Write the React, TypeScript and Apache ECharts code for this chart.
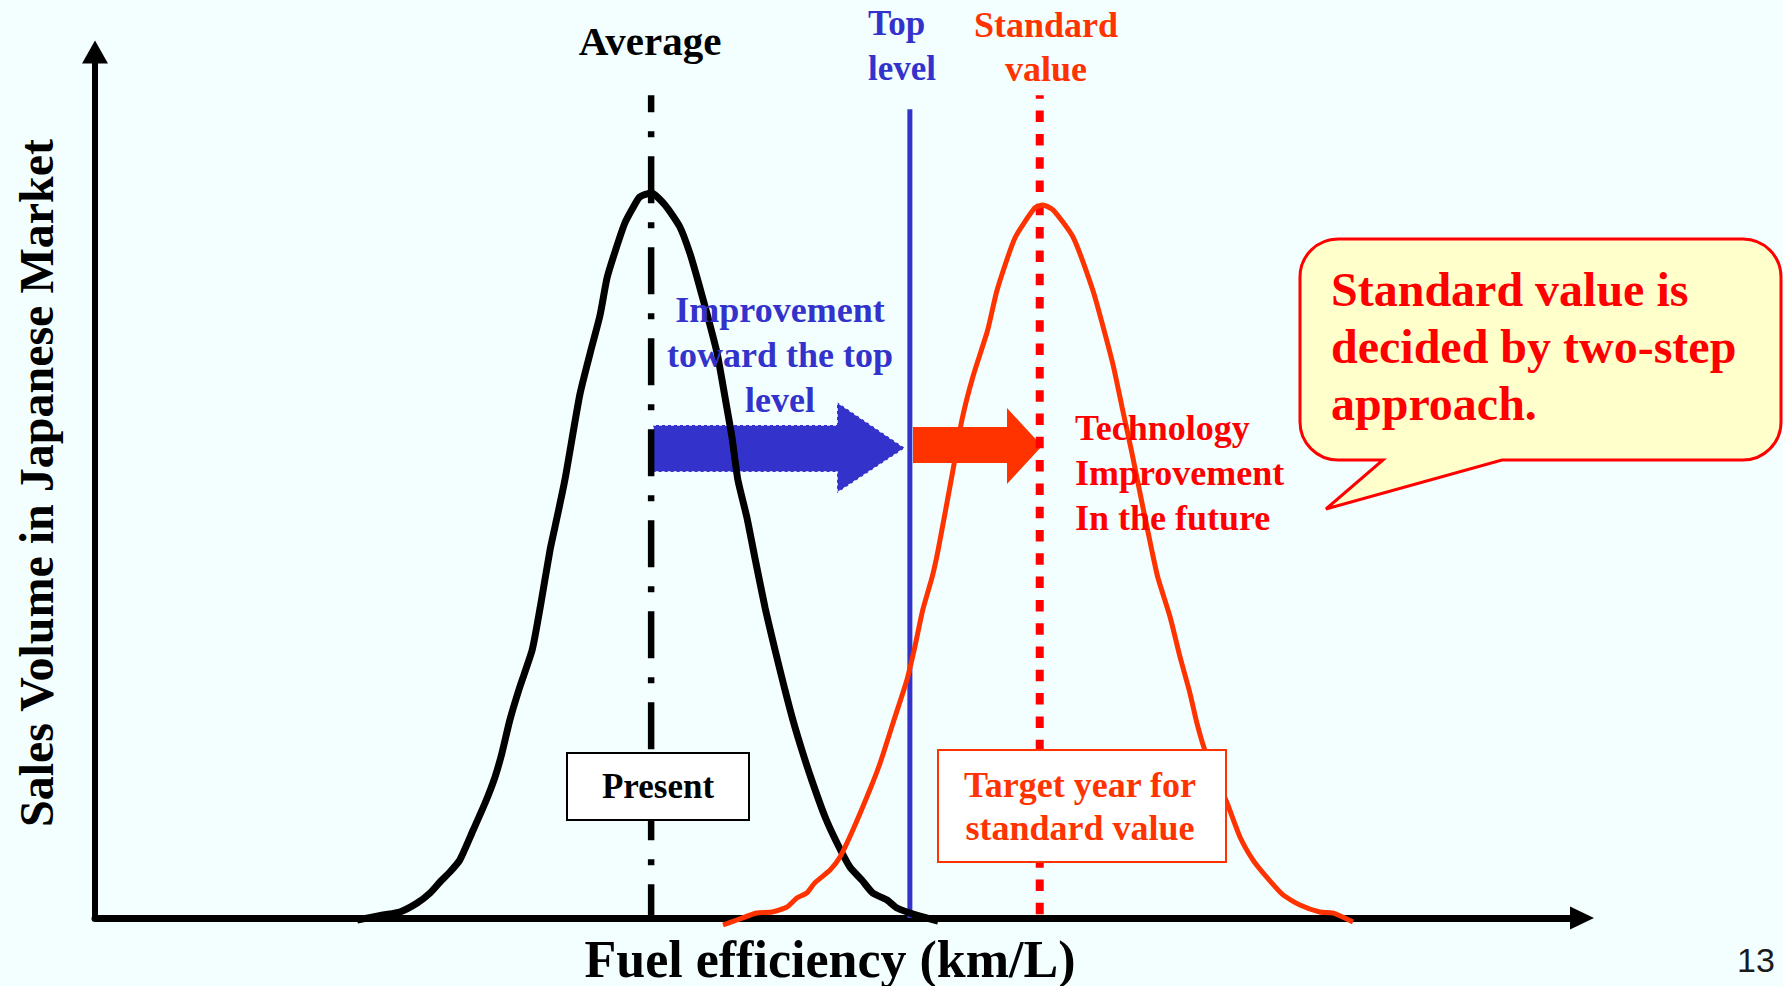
import React, { useEffect, useRef } from "react";
import * as echarts from "echarts";

// ---- data (x: fuel efficiency km/L, y: share of sales volume) ----
const presentX = [5.29, 5.81, 6.15, 6.5, 6.76, 6.96, 7.16, 7.36, 7.63, 7.87, 8.07, 8.21, 8.37, 8.57, 8.82, 8.98, 9.18, 9.28, 9.48, 9.78, 9.99, 10.19, 10.33, 10.49, 10.69, 10.85, 10.99, 11.22, 11.5, 11.8, 12.0, 12.16, 12.37, 12.55, 12.71, 12.85, 12.97, 13.15, 13.31, 13.52, 13.72, 13.92, 14.08, 14.28, 14.48, 14.73, 14.97, 15.23, 15.47, 15.69, 15.98, 16.18, 16.44, 16.7, 17.01];
const presentY = [-0.23, 0.35, 0.69, 1.73, 2.89, 4.16, 5.31, 6.7, 10.16, 13.28, 16.28, 19.05, 22.86, 26.67, 30.95, 35.8, 42.49, 45.15, 50.58, 60.39, 65.24, 69.63, 73.9, 76.91, 80.25, 81.99, 83.26, 83.72, 82.33, 79.79, 76.79, 73.67, 69.28, 65.24, 60.16, 55.54, 50.58, 46.3, 41.69, 35.8, 30.95, 26.33, 22.86, 19.05, 15.59, 11.66, 8.66, 5.89, 4.39, 2.89, 2.08, 1.15, 0.58, 0.12, -0.35];
const futureX = [12.67, 12.95, 13.35, 13.66, 13.96, 14.16, 14.36, 14.52, 14.83, 15.03, 15.29, 15.63, 15.84, 16.1, 16.38, 16.54, 16.7, 16.89, 17.01, 17.31, 17.49, 17.71, 18.01, 18.2, 18.56, 18.96, 19.12, 19.33, 19.73, 20.13, 20.34, 20.54, 20.72, 20.92, 21.14, 21.32, 21.44, 21.69, 21.89, 22.09, 22.23, 22.39, 22.84, 23.1, 23.36, 23.6, 23.97, 24.31, 24.71, 24.97, 25.38];
const futureY = [-0.81, -0.23, 0.58, 0.69, 1.27, 2.31, 2.89, 4.04, 5.54, 7.04, 10.16, 14.78, 17.9, 22.52, 27.48, 31.29, 35.57, 39.38, 42.49, 51.73, 57.51, 62.47, 67.9, 72.52, 78.52, 81.99, 82.33, 81.76, 78.64, 72.52, 68.24, 63.86, 59.01, 53.7, 47.46, 42.49, 39.38, 34.76, 30.14, 25.98, 22.52, 19.4, 13.28, 9.35, 6.7, 4.97, 2.66, 1.5, 0.69, 0.58, -0.46];

const averageValue = 11.22;
const averageTop = 95.0;
const topLevelValue = 16.44;
const topLevelTop = 93.4;
const standardValue = 19.06;
const standardTop = 95.0;

const xMin = 0;
const xMax = 30;
const yMin = 0;
const yMax = 100;

const xTitle = "Fuel efficiency (km/L)";
const yTitle = "Sales Volume in Japanese Market";
const averageLabel = "Average";
const topLevelLabel = "Top\nlevel";
const standardLabel = "Standard\nvalue";
const improvementLabel = "Improvement\ntoward the top\nlevel";
const technologyLabel = "Technology\nImprovement\nIn the future";
const calloutLabel = "Standard value is\ndecided by two-step\napproach.";
const presentLabel = "Present";
const targetLabel = "Target year for\nstandard value";
const pageNumber = "13";

// ---- styles ----
const BG = "#F3FFFF";
const BLUE = "#3333CC";
const ORANGE = "#FF3300";
const RED = "#FF0000";
const SERIF = '"Liberation Serif", "Times New Roman", serif';

const CALLOUT_D =
  "M1338 239 L1743 239 A38 38 0 0 1 1781 277 L1781 422 A38 38 0 0 1 1743 460 L1502 460 L1326 509 L1383 460 L1338 460 A38 38 0 0 1 1300 422 L1300 277 A38 38 0 0 1 1338 239 Z";

let registered = false;
function ensureShapes() {
  if (registered) return;
  echarts.graphic.registerShape("callout", echarts.graphic.extendPath(CALLOUT_D, {}));
  registered = true;
}

const zip = (xs: number[], ys: number[]) => xs.map((x, i) => [x, ys[i]]);

function txt(
  text: string,
  x: number,
  y: number,
  size: number,
  fill: string,
  align: string,
  lineHeight?: number,
  extra: any = {}
) {
  return {
    type: "text",
    x,
    y,
    z: 20,
    ...extra,
    style: {
      text,
      fill,
      fontSize: size,
      fontWeight: "bold",
      fontFamily: SERIF,
      textAlign: align,
      textVerticalAlign: "middle",
      lineHeight: lineHeight || size * 1.2,
      ...(extra.style || {}),
    },
  };
}

export default function App() {
  const ref = useRef<HTMLDivElement>(null);

  useEffect(() => {
    if (!ref.current) return;
    ensureShapes();
    document.body.style.margin = "0";
    const chart = echarts.init(ref.current, undefined, { renderer: "svg" });

    const option: any = {
      animation: false,
      backgroundColor: BG,
      grid: { left: 95, right: 201, top: 52, bottom: 68, containLabel: false },
      xAxis: {
        type: "value",
        min: xMin,
        max: xMax,
        splitLine: { show: false },
        axisTick: { show: false },
        axisLabel: { show: false },
        axisLine: {
          show: true,
          onZero: false,
          symbol: ["none", "triangle"],
          symbolSize: [23, 24],
          lineStyle: { color: "#000000", width: 7 },
        },
      },
      yAxis: {
        type: "value",
        min: yMin,
        max: yMax,
        splitLine: { show: false },
        axisTick: { show: false },
        axisLabel: { show: false },
        axisLine: {
          show: true,
          onZero: false,
          symbol: ["none", "triangle"],
          symbolSize: [26, 23],
          lineStyle: { color: "#000000", width: 6 },
        },
      },
      series: [
        {
          name: "Average",
          type: "line",
          data: [
            [averageValue, averageTop],
            [averageValue, 0],
          ],
          symbol: "none",
          clip: false,
          z: 3,
          lineStyle: { color: "#000000", width: 6.5, type: [47, 19, 6, 19], dashOffset: 30 },
        },
        {
          name: "Top level",
          type: "line",
          data: [
            [topLevelValue, topLevelTop],
            [topLevelValue, 0],
          ],
          symbol: "none",
          clip: false,
          z: 3,
          lineStyle: { color: BLUE, width: 5, type: "solid" },
        },
        {
          name: "Standard value",
          type: "line",
          data: [
            [standardValue, standardTop],
            [standardValue, 0],
          ],
          symbol: "none",
          clip: false,
          z: 3,
          lineStyle: { color: RED, width: 8, type: [11.5, 11.8], dashOffset: 7.8 },
        },
        {
          name: "Present",
          type: "line",
          data: zip(presentX, presentY),
          symbol: "none",
          smooth: 0.2,
          clip: false,
          z: 4,
          lineStyle: { color: "#000000", width: 7 },
        },
        {
          name: "Future",
          type: "line",
          data: zip(futureX, futureY),
          symbol: "none",
          smooth: 0.2,
          clip: false,
          z: 4,
          lineStyle: { color: ORANGE, width: 5 },
        },
      ],
      graphic: {
        elements: [
          // arrows (under curves)
          {
            type: "polygon",
            z: 1,
            shape: {
              points: [
                [653, 425],
                [837, 425],
                [837, 402],
                [905, 448],
                [837, 493],
                [837, 472],
                [653, 472],
              ],
            },
            style: { fill: BLUE, stroke: "#FFFFFF", lineWidth: 1.5, lineDash: [3, 3] },
          },
          {
            type: "polygon",
            z: 1,
            shape: {
              points: [
                [913, 427],
                [1007, 427],
                [1007, 408],
                [1042, 446],
                [1007, 484],
                [1007, 463],
                [913, 463],
              ],
            },
            style: { fill: ORANGE },
          },
          // callout
          {
            type: "callout",
            x: 0,
            y: 0,
            z: 15,
            style: { fill: "#FFFFCC", stroke: RED, lineWidth: 3 },
          },
          // boxes
          {
            type: "rect",
            z: 15,
            shape: { x: 567, y: 753, width: 182, height: 67 },
            style: { fill: "#FFFFFF", stroke: "#000000", lineWidth: 2 },
          },
          {
            type: "rect",
            z: 15,
            shape: { x: 938, y: 750, width: 288, height: 112 },
            style: { fill: "#FFFFFF", stroke: ORANGE, lineWidth: 2 },
          },
          // texts
          txt(averageLabel, 650, 41, 41, "#000000", "center"),
          txt(topLevelLabel, 868, 46, 35, BLUE, "left", 45),
          txt(standardLabel, 1046, 47, 36, ORANGE, "center", 44),
          txt(improvementLabel, 780, 355, 36, BLUE, "center", 45),
          txt(technologyLabel, 1075, 473, 36, RED, "left", 45),
          txt(calloutLabel, 1331, 346, 48, RED, "left", 57),
          txt(presentLabel, 658, 786, 35, "#000000", "center"),
          txt(targetLabel, 1080, 806, 36, ORANGE, "center", 43),
          txt(xTitle, 830, 959, 52, "#000000", "center"),
          txt(yTitle, 36, 483, 48, "#000000", "center", 56, { rotation: Math.PI / 2 }),
          {
            type: "text",
            x: 1737,
            y: 960,
            z: 20,
            style: {
              text: pageNumber,
              fill: "#1A1A1A",
              fontSize: 34,
              fontFamily: '"Liberation Sans", Arial, sans-serif',
              textAlign: "left",
              textVerticalAlign: "middle",
            },
          },
        ],
      },
    };

    chart.setOption(option);
    return () => {
      chart.dispose();
    };
  }, []);

  return (
    <div
      ref={ref}
      style={{ position: "fixed", left: 0, top: 0, width: 1783, height: 986, background: BG }}
    />
  );
}
